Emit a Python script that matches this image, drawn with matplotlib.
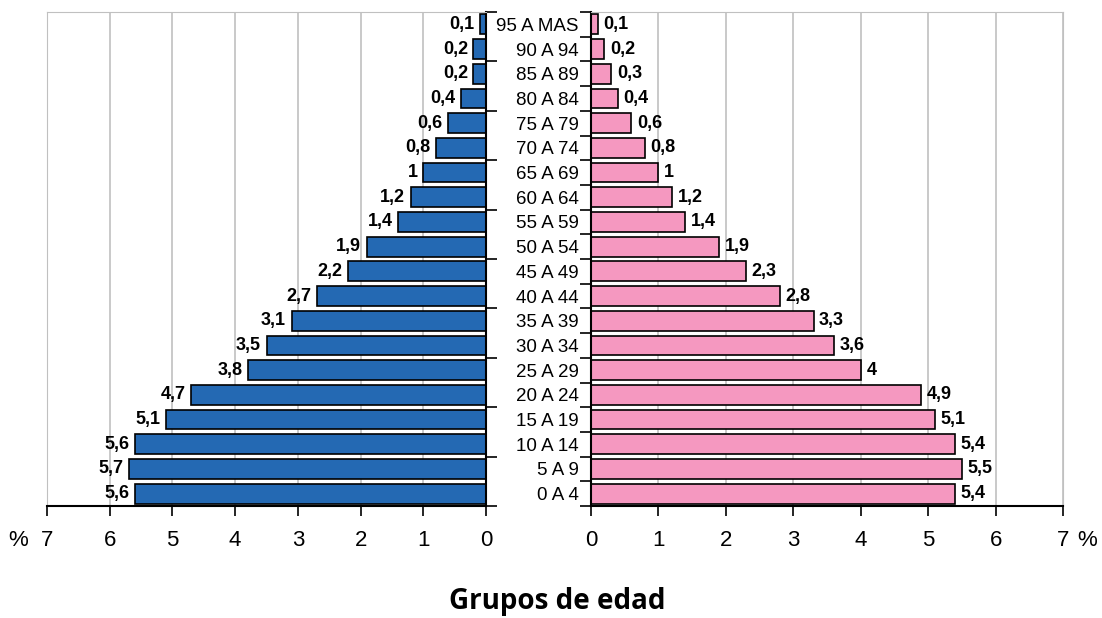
import matplotlib.pyplot as plt
import numpy as np

# Age groups from youngest (bottom) to oldest (top)
grupos = ["0 A 4", "5 A 9", "10 A 14", "15 A 19", "20 A 24", "25 A 29",
          "30 A 34", "35 A 39", "40 A 44", "45 A 49", "50 A 54", "55 A 59",
          "60 A 64", "65 A 69", "70 A 74", "75 A 79", "80 A 84", "85 A 89",
          "90 A 94", "95 A MAS"]
hombres = [5.6, 5.7, 5.6, 5.1, 4.7, 3.8, 3.5, 3.1, 2.7, 2.2,
           1.9, 1.4, 1.2, 1.0, 0.8, 0.6, 0.4, 0.2, 0.2, 0.1]
mujeres = [5.4, 5.5, 5.4, 5.1, 4.9, 4.0, 3.6, 3.3, 2.8, 2.3,
           1.9, 1.4, 1.2, 1.0, 0.8, 0.6, 0.4, 0.3, 0.2, 0.1]
xticks = [0, 1, 2, 3, 4, 5, 6, 7]

BLUE = "#2469b3"
PINK = "#f598c0"
GRID = "#c0c0c0"

plt.rcParams["font.family"] = ["Liberation Sans", "DejaVu Sans"]

W, H = 1102, 618
fig = plt.figure(figsize=(W / 100, H / 100), dpi=100)

bottom = 1 - 506 / H
height = 494 / H
ax_l = fig.add_axes([47 / W, bottom, 439 / W, height])
ax_r = fig.add_axes([591 / W, bottom, 472 / W, height])

y = np.arange(len(grupos))


def fmt(v):
    return f"{v:g}".replace(".", ",")


for ax, vals, color, side in [(ax_l, hombres, BLUE, -1),
                              (ax_r, mujeres, PINK, 1)]:
    ax.barh(y, vals, height=0.8, color=color, edgecolor="black",
            linewidth=1.2, zorder=3)
    # value labels just outside the bar end
    for yi, v in zip(y, vals):
        ax.annotate(fmt(v), (v, yi), xytext=(4 * side, 0),
                    textcoords="offset points", va="center",
                    ha="left" if side > 0 else "right",
                    fontsize=13, fontweight="bold")
    ax.set_ylim(-0.5, len(grupos) - 0.5)
    ax.set_xticks(xticks)
    ax.set_xticklabels([str(t) for t in xticks], fontsize=16)
    ax.tick_params(axis="x", direction="out", length=7, width=1.2, pad=10)
    ax.grid(axis="x", color=GRID, linewidth=1.2, zorder=0)
    ax.spines["top"].set_color(GRID)
    ax.spines["bottom"].set_linewidth(1.5)
    for s in ax.spines.values():
        s.set_zorder(4)

# left (men) panel: reversed x, y-axis on the right side
ax_l.set_xlim(7, 0)
ax_l.spines["left"].set_color(GRID)
ax_l.spines["right"].set_linewidth(1.5)
ax_l.yaxis.tick_right()
ax_l.set_yticks(np.arange(-0.5, len(grupos), 2))
ax_l.set_yticklabels([])
ax_l.tick_params(axis="y", direction="out", length=8, width=1.2)

# right (women) panel: age-group labels on its left
ax_r.set_xlim(0, 7)
ax_r.spines["right"].set_color(GRID)
ax_r.spines["left"].set_linewidth(1.5)
ax_r.set_yticks(np.arange(-0.5, len(grupos), 1))
ax_r.set_yticklabels([])
ax_r.tick_params(axis="y", direction="out", length=8, width=1.2)
ax_r.set_yticks(y, minor=True)
ax_r.set_yticklabels(grupos, minor=True, fontsize=13.5)
ax_r.tick_params(axis="y", which="minor", length=0, pad=9)

fig.text(18 / W, 1 - 540 / H, "%", fontsize=16, ha="center", va="center")
fig.text(1087 / W, 1 - 540 / H, "%", fontsize=16, ha="center", va="center")
fig.text(557 / W, 1 - 602 / H, "Grupos de edad", fontsize=20,
         fontweight="bold", family=["Open Sans", "DejaVu Sans"],
         ha="center", va="center")

fig.savefig("out.png", dpi=100)
